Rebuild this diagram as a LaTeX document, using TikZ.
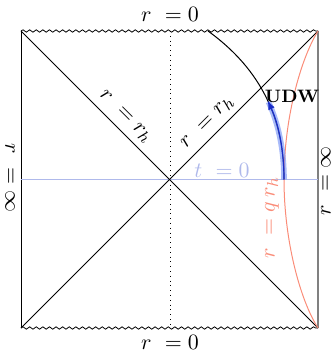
\documentclass[tikz,border=0pt]{standalone}
\usetikzlibrary{arrows.meta, decorations.pathmorphing}
\definecolor{salmonline}{RGB}{250,140,120}
\definecolor{tzeroblue}{RGB}{175,185,235}
\definecolor{udwblue}{RGB}{25,45,200}
\definecolor{udwglow}{RGB}{110,140,245}

\begin{document}
\begin{tikzpicture}[
  x=0.5pt, y=-0.5pt,
  lbl/.style={font=\fontsize{11}{13}\selectfont, inner sep=1pt},
  sing/.style={decorate, decoration={snake, segment length=3.3pt, amplitude=0.6pt}},
  horizon/.style={line width=0.5pt},
  arr/.style={-{Latex[length=4.5pt, width=3.5pt]}, udwblue, line width=0.6pt},
]
\useasboundingbox (0,0) rectangle (334,351);

% Corners of the diagram
\coordinate (tl) at (21,31);
\coordinate (tr) at (318,31);
\coordinate (bl) at (21,328);
\coordinate (br) at (318,328);
\coordinate (c)  at (169.5,179.5);
\coordinate (start) at (284,179.5);

% Boundaries
\draw[sing] (tl) -- (tr);
\draw[sing] (bl) -- (br);
\draw[line width=0.5pt] (tl) -- (bl);
\draw[gray, line width=0.9pt] (tr) -- (br);
\draw[dotted] (170,31) -- (170,328);

% t = 0 slice
\draw[tzeroblue, line width=0.6pt] (21,179.5) -- (318,179.5);

% Horizons
\draw[horizon] (tl) -- (br);
\draw[horizon] (bl) -- (tr);

% r = q r_h
\draw[salmonline, line width=0.5pt] (tr) .. controls (300,60) and (284,120) .. (start)
  .. controls (284,240) and (300,300) .. (br);

% Trajectory
\draw[line width=0.5pt] (start) .. controls (284,120) and (262,70) .. (208,31);
\draw[udwglow, opacity=0.6, line width=2.8pt]
  (start) .. controls (284,151.2) and (278.9,124.7) .. (268.5,102);
\draw[arr] (start) .. controls (284,151.2) and (278.9,124.7) .. (267.7,100.6);

% Labels
\node[lbl] (top) at (170,14) {$r\ = 0$};
\node[lbl] (bot) at (170,342) {$r\ = 0$};
\node[lbl, rotate=-90] (lft) at (10,178) {$r\ = \infty$};
\node[lbl, rotate=90] (rgt) at (326,181) {$r\ = \infty$};
\path (tl) -- (c) node[lbl, pos=0.64, sloped, above=2pt] (hl) {$r\ = r_h$};
\path (c) -- (tr) node[lbl, pos=0.32, sloped, above=2pt] (hr) {$r\ = r_h$};
\node[lbl, text=tzeroblue] (tzero) at (222,170) {$t\ = 0$};
\node[font=\fontsize{9}{11}\selectfont\bfseries] (udw) at (292,96) {UDW};
\node[lbl, text=salmonline, rotate=90] (qr) at (272,218) {$r\ = q\,r_h$};

\end{tikzpicture}
\end{document}
